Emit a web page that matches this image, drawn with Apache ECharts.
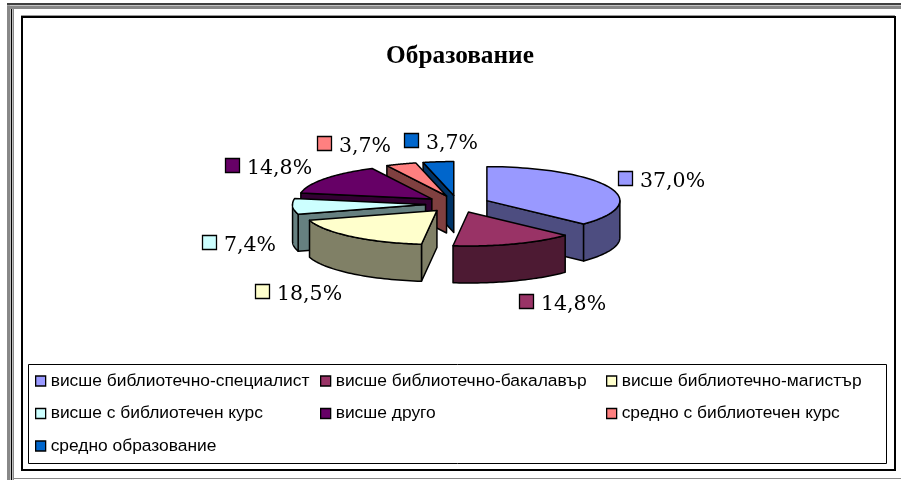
<!DOCTYPE html>
<html><head><meta charset="utf-8">
<style>html,body{margin:0;padding:0;background:#fff}#c{width:901px;height:480px}</style>
<script src="https://cdn.jsdelivr.net/npm/echarts@6/dist/echarts.min.js"></script>
</head><body><div id="c"></div>
<script>
const titleText = 'Образование';
const categories = ['висше библиотечно-специалист','висше библиотечно-бакалавър','висше библиотечно-магистър','висше с библиотечен курс','висше друго','средно с библиотечен курс','средно образование'];
const shares = [37.0,14.8,18.5,7.4,14.8,3.7,3.7];
const topColors = ['#9999FF','#993366','#FFFFCC','#CCFFFF','#660066','#FF8080','#0066CC'];
const sideColors = ['#4D4D80','#4D1A33','#808066','#668080','#330033','#804040','#003366'];
const drawRank = [5,6,4,3,2,1,0];
// layout of the 3-D pie
const PIE = {cx:457.5, cy:204, rx:133, ry:34, depth:37, explodeX:32, explodeY:8.5};
const keyPos = [[618,171],[519,294],[255,284],[202,235],[225,158],[317,136],[404,133]];
const legendColumns = [{left:35,items:[0,3,6]},{left:320,items:[1,4]},{left:606,items:[2,5]}];

const total = shares.reduce((a,b)=>a+b,0);
const rad = d=>d*Math.PI/180;
function sliceAngles(i){
  let s=0; for(let k=0;k<i;k++) s+=shares[k];
  return [s/total*360,(s+shares[i])/total*360];
}
function renderSlice(i,api){
  const [a0,a1]=sliceAngles(i);
  const mid=rad((a0+a1)/2);
  const ax=PIE.cx+PIE.explodeX*Math.sin(mid);
  const ay=PIE.cy-PIE.explodeY*Math.cos(mid);
  const P=(d,dz)=>[ax+PIE.rx*Math.sin(rad(d)),ay-PIE.ry*Math.cos(rad(d))+(dz||0)];
  const D=PIE.depth, children=[];
  const poly=(pts,fill)=>children.push({type:'polygon',shape:{points:pts},
    style:{fill,stroke:'#000',lineWidth:1.5,lineJoin:'round'}});
  const radial=a=>poly([[ax,ay],P(a),P(a,D),[ax,ay+D]],sideColors[i]);
  if(Math.sin(rad(a0))<-1e-6) radial(a0);
  if(Math.sin(rad(a1))>1e-6) radial(a1);
  const f0=Math.max(a0,90), f1=Math.min(a1,270);
  if(f1>f0){
    const up=[],down=[];
    for(let n=0;n<=40;n++){const d=f0+(f1-f0)*n/40;up.push(P(d));down.unshift(P(d,D));}
    poly(up.concat(down),sideColors[i]);
  }
  const top=[[ax,ay]];
  for(let n=0;n<=60;n++) top.push(P(a0+(a1-a0)*n/60));
  poly(top,topColors[i]);
  // data label: key square + percentage
  const [kx,ky]=keyPos[i];
  children.push({type:'rect',shape:{x:kx+.5,y:ky+.5,width:14,height:14},
    style:{fill:topColors[i],stroke:'#000',lineWidth:1.3},z2:50});
  children.push({type:'text',x:kx+22,y:ky+10.5,z2:50,style:{
    text:api.value(0).toFixed(1).replace('.',',')+'%',
    font:'20.5px "DejaVu Serif"',fill:'#000',textVerticalAlign:'middle',textAlign:'left'}});
  return {type:'group',children};
}
const line=(x1,y1,x2,y2,c,w)=>({type:'line',shape:{x1,y1,x2,y2},style:{stroke:c,lineWidth:w},silent:true});
const chart=echarts.init(document.getElementById('c'),null,{renderer:'canvas',width:901,height:480});
chart.setOption({
  animation:false,
  backgroundColor:'#fff',
  title:{text:titleText,left:455,top:39,textAlign:'center',
    textStyle:{fontFamily:'"Liberation Serif"',fontWeight:'bold',fontSize:25.3,color:'#000'}},
  legend:legendColumns.map(c=>({
    orient:'vertical',left:c.left,top:372.5,itemWidth:10,itemHeight:10,itemGap:15.5,
    selectedMode:false,padding:0,icon:'rect',
    itemStyle:{borderColor:'#000',borderWidth:1.3},
    textStyle:{fontFamily:'"Liberation Sans"',fontSize:17.4,color:'#000'},
    data:c.items.map(i=>categories[i])
  })),
  graphic:{elements:[
    line(7,4,901,4,'#000',1.5),
    {type:'rect',shape:{x:7,y:5.5,width:894,height:3.5},style:{fill:'#888'},silent:true},
    {type:'rect',shape:{x:7,y:5.5,width:3,height:475},style:{fill:'#888'},silent:true},
    line(11.5,9,11.5,480,'#000',1.5),
    line(13.5,9,13.5,480,'#888',1),
    line(13,478.5,901,478.5,'#888',1),
    line(21,15.5,895,15.5,'#999',1),
    {type:'rect',shape:{x:22,y:17,width:873,height:453},style:{fill:'#fff',stroke:'#000',lineWidth:2},z:-10,silent:true},
    {type:'rect',shape:{x:28.5,y:364.5,width:858,height:99},style:{fill:'#fff',stroke:'#000',lineWidth:1},z:-9,silent:true}
  ]},
  series:categories.map((name,i)=>({
    type:'custom',name,coordinateSystem:'none',z:2+drawRank[i],silent:true,
    itemStyle:{color:topColors[i]},
    data:[[shares[i]]],
    renderItem:(p,api)=>renderSlice(i,api)
  }))
});
</script></body></html>
